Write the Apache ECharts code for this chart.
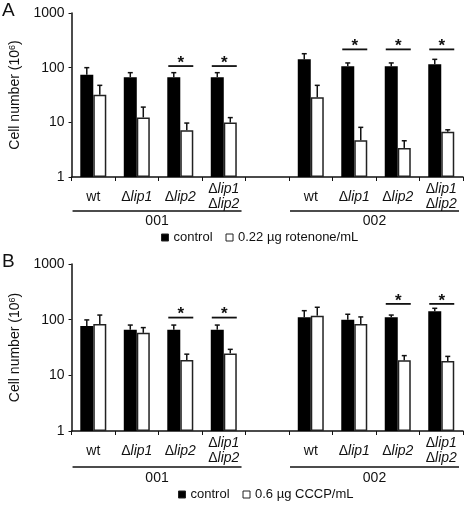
<!DOCTYPE html>
<html><head><meta charset="utf-8">
<script src="https://cdn.jsdelivr.net/npm/echarts@6/dist/echarts.min.js"></script>
<style>html,body{margin:0;padding:0;background:#fff}#c{width:468px;height:507px}</style>
</head><body><div id="c"></div>
<script>
// ---- data ----
const categories = ['wt', 'Δlip1', 'Δlip2', 'Δlip1\nΔlip2', '', 'wt', 'Δlip1', 'Δlip2', 'Δlip1\nΔlip2'];
const groupNames = ['001', '002'];
const groupRanges = [[0, 3], [5, 8]];
const namesA = ['control', '0.22 µg rotenone/mL'];
const namesB = ['control', '0.6 µg CCCP/mL'];

const controlA      = [74, 67, 67, 67, null, 142, 106, 106, 115];
const controlAUpper = [100, 81, 81, 81, null, 180, 122, 122, 142];
const rotenone      = [32, 12.3, 7.2, 9.9, null, 28.7, 4.7, 3.4, 6.7];
const rotenoneUpper = [47.5, 19, 9.7, 12.2, null, 47.5, 8.1, 4.6, 7.3];

const controlB      = [77, 66, 66, 66, null, 110, 100, 110, 141];
const controlBUpper = [99, 80, 80, 80, null, 145, 125, 121, 160];
const cccp          = [84, 58, 18.9, 24.8, null, 118, 84, 18.6, 18.1];
const cccpUpper     = [121, 72, 24, 29.3, null, 167, 112, 22.6, 21.9];

// significance markers: [category index, bracket level]
const sigA = [[2, 107], [3, 107], [6, 216], [7, 216], [8, 216]];
const sigB = [[2, 109], [3, 109], [7, 192], [8, 192]];

// ---- styling ----
const FONT = 'Liberation Sans, Arial, sans-serif';
const INK = '#111';
const BAR_W = 13;

function catLabel(v) {
  return v.split('\n').map(s => s.startsWith('Δ') ? '{d|Δ}{i|' + s.slice(1) + '}' : '{n|' + s + '}').join('\n');
}
const rich = {
  n: {fontSize: 14, fontFamily: FONT, color: INK, lineHeight: 15},
  d: {fontSize: 14, fontFamily: FONT, color: INK, lineHeight: 15},
  i: {fontSize: 14, fontFamily: FONT, color: INK, fontStyle: 'italic', lineHeight: 15}
};

function xAxisCfg(gi) {
  return {
    type: 'category', gridIndex: gi, data: categories,
    axisLine: {lineStyle: {color: INK, width: 1.5}},
    axisTick: {show: true, length: 4, lineStyle: {color: INK, width: 1}},
    axisLabel: {interval: 0, margin: 20, verticalAlign: 'middle', formatter: catLabel, rich: rich}
  };
}
function yAxisCfg(gi) {
  return {
    type: 'log', logBase: 10, min: 1, max: 1000, gridIndex: gi,
    name: 'Cell number (10{s|6})', nameLocation: 'middle', nameGap: 45,
    nameTextStyle: {fontSize: 14, fontFamily: FONT, color: INK,
      rich: {s: {fontSize: 9, fontFamily: FONT, color: INK, verticalAlign: 'bottom', padding: [0, 0, 6, 0]}}},
    axisLine: {show: true, lineStyle: {color: INK, width: 1.5}},
    axisTick: {show: true, length: 3, lineStyle: {color: INK}},
    axisLabel: {fontSize: 14, fontFamily: FONT, color: INK, margin: 7, formatter: v => String(Math.round(v))},
    splitLine: {show: false}
  };
}
function withIdx(vals, uppers) {
  const out = [];
  vals.forEach((v, i) => { if (v != null) out.push([i, v, uppers[i]]); });
  return out;
}
function errSeries(gi, vals, uppers, offset) {
  return {
    type: 'custom', xAxisIndex: gi, yAxisIndex: gi, silent: true, z: 5,
    encode: {x: 0, y: [1, 2]},
    data: withIdx(vals, uppers),
    renderItem: function (params, api) {
      const base = api.coord([api.value(0), api.value(1)]);
      const top = api.coord([api.value(0), api.value(2)]);
      const x = base[0] + offset;
      return {type: 'group', children: [
        {type: 'line', shape: {x1: x, y1: base[1], x2: x, y2: top[1]}, style: {stroke: INK, lineWidth: 1.5}},
        {type: 'line', shape: {x1: x - 2.5, y1: top[1], x2: x + 2.5, y2: top[1]}, style: {stroke: INK, lineWidth: 1.5}}
      ]};
    }
  };
}
function sigSeries(gi, sig) {
  return {
    type: 'custom', xAxisIndex: gi, yAxisIndex: gi, silent: true, clip: false, z: 6,
    data: sig,
    renderItem: function (params, api) {
      const p = api.coord([api.value(0), api.value(1)]);
      return {type: 'group', children: [
        {type: 'line', shape: {x1: p[0] - 12, y1: p[1], x2: p[0] + 13, y2: p[1]}, style: {stroke: INK, lineWidth: 1.8}},
        {type: 'text', x: p[0] + 0.5, y: p[1] - 3, style: {text: '*', fontSize: 17, fontWeight: 'bold', fontFamily: FONT, fill: INK, align: 'center', verticalAlign: 'middle'}}
      ]};
    }
  };
}
function groupSeries(gi, lineOff, textOff) {
  return {
    type: 'custom', xAxisIndex: gi, yAxisIndex: gi, silent: true, clip: false,
    data: groupRanges.map(r => [r[0], 1, r[1]]),
    renderItem: function (params, api) {
      const a = api.coord([api.value(0), 1]);
      const b = api.coord([api.value(2), 1]);
      const w = api.coord([1, 1])[0] - api.coord([0, 1])[0];
      const x0 = a[0] - w / 2 + 1, x1 = b[0] + w / 2 - 4;
      const y = a[1] + lineOff;
      return {type: 'group', children: [
        {type: 'line', shape: {x1: x0, y1: y, x2: x1, y2: y}, style: {stroke: INK, lineWidth: 1.5}},
        {type: 'text', x: (x0 + x1) / 2, y: a[1] + textOff, style: {text: groupNames[params.dataIndex], fontSize: 14, fontFamily: FONT, fill: INK, align: 'center', verticalAlign: 'middle'}}
      ]};
    }
  };
}
function barPair(gi, names, blackVals, whiteVals) {
  return [
    {name: names[0], type: 'bar', xAxisIndex: gi, yAxisIndex: gi, data: blackVals.map(v => v == null ? '-' : v),
      barWidth: BAR_W, barGap: '0%', itemStyle: {color: '#000', borderColor: '#000', borderWidth: 0}, silent: true},
    {name: names[1], type: 'bar', xAxisIndex: gi, yAxisIndex: gi, data: whiteVals.map(v => v == null ? '-' : v),
      barWidth: BAR_W, barGap: '0%', itemStyle: {color: '#fff', borderColor: '#222', borderWidth: 1.5}, silent: true}
  ];
}
function legendCfg(names, left, top) {
  return {data: names, left: left, top: top, orient: 'horizontal', icon: 'rect',
    itemWidth: 7, itemHeight: 7, itemGap: 13, selectedMode: false, padding: 0,
    itemStyle: {borderColor: '#222', borderWidth: 1},
    textStyle: {fontSize: 13, fontFamily: FONT, color: INK}};
}

const chart = echarts.init(document.getElementById('c'), null, {renderer: 'canvas'});
chart.setOption({
  animation: false,
  backgroundColor: '#fff',
  title: [
    {text: 'A', left: 2, top: 1, padding: 0, textStyle: {fontSize: 19, fontWeight: 'normal', fontFamily: FONT, color: INK}},
    {text: 'B', left: 2, top: 252, padding: 0, textStyle: {fontSize: 19, fontWeight: 'normal', fontFamily: FONT, color: INK}}
  ],
  grid: [
    {left: 66, right: 5, top: 13, height: 164},
    {left: 66, right: 5, top: 264, height: 167}
  ],
  xAxis: [xAxisCfg(0), xAxisCfg(1)],
  yAxis: [yAxisCfg(0), yAxisCfg(1)],
  legend: [legendCfg(namesA, 161, 231), legendCfg(namesB, 178, 488)],
  series: [
    ...barPair(0, namesA, controlA, rotenone),
    errSeries(0, controlA, controlAUpper, -BAR_W / 2),
    errSeries(0, rotenone, rotenoneUpper, BAR_W / 2),
    sigSeries(0, sigA),
    groupSeries(0, 34, 44),
    ...barPair(1, namesB, controlB, cccp),
    errSeries(1, controlB, controlBUpper, -BAR_W / 2),
    errSeries(1, cccp, cccpUpper, BAR_W / 2),
    sigSeries(1, sigB),
    groupSeries(1, 36, 47)
  ]
});
</script>
</body></html>
